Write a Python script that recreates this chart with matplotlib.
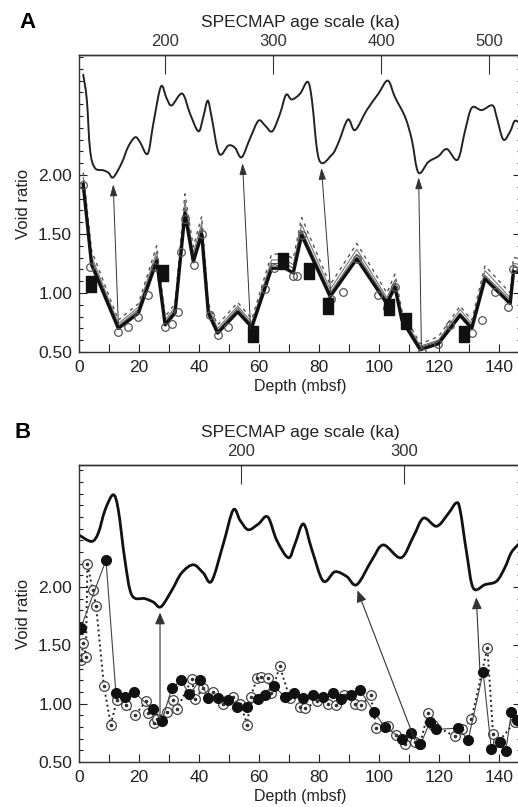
import matplotlib
matplotlib.use("Agg")
import matplotlib.pyplot as plt
from matplotlib.ticker import MultipleLocator, FixedLocator
from matplotlib.path import Path
from matplotlib.patches import PathPatch

plt.rcParams['font.family'] = ['Liberation Sans', 'DejaVu Sans']

# ---------------- Panel A data ----------------
specA_depth = [1.4, 2.6, 3.7, 5.3, 8.1, 9.8, 11.4, 14.2, 16.4, 18.7, 20.3, 22.9, 24.8, 27.3,
               29.2, 30.9, 34.4, 37.0, 39.8, 41.4, 42.9, 44.2, 46.7, 49.8, 52.0, 54.2, 57.0,
               59.8, 62.0, 64.4, 67.0, 69.0, 70.9, 73.7, 76.2, 77.6, 80.0, 84.2, 86.4, 89.6,
               92.0, 95.9, 99.8, 102.9, 105.3, 108.7, 110.9, 113.1, 116.4, 119.8, 122.6,
               126.2, 128.7, 130.9, 134.2, 137.8, 139.2, 141.4, 143.7, 145.3, 147.5]
specA_val = [2.85, 2.64, 2.21, 2.06, 2.04, 2.02, 1.98, 2.10, 2.24, 2.32, 2.28, 2.18, 2.44, 2.75,
             2.65, 2.59, 2.69, 2.52, 2.37, 2.49, 2.63, 2.49, 2.18, 2.25, 2.23, 2.15, 2.31,
             2.46, 2.42, 2.37, 2.52, 2.68, 2.64, 2.69, 2.79, 2.64, 2.13, 2.17, 2.27, 2.47,
             2.38, 2.55, 2.69, 2.80, 2.66, 2.49, 2.30, 2.02, 2.11, 2.16, 2.22,
             2.13, 2.38, 2.57, 2.55, 2.59, 2.49, 2.30, 2.37, 2.46, 2.42]

voidA_depth = [1.4, 4.2, 13.1, 19.8, 25.9, 28.7, 32.0, 35.3, 38.1, 40.9, 43.1, 46.2, 52.9, 57.6,
               64.2, 68.7, 71.4, 74.2, 83.7, 92.6, 102.6, 105.3, 107.6, 113.7, 119.8, 127.0,
               130.9, 135.3, 143.7, 144.8, 147.5]
voidA_main = [1.92, 1.24, 0.70, 0.83, 1.27, 0.73, 0.83, 1.675, 1.265, 1.50, 0.83, 0.66, 0.84, 0.71,
              1.21, 1.21, 1.17, 1.49, 0.97, 1.29, 0.91, 1.05, 0.77, 0.52, 0.57, 0.81,
              0.70, 1.12, 0.91, 1.18, 1.17]
voidA_thin1 = [1.95, 1.28, 0.72, 0.86, 1.31, 0.75, 0.86, 1.72, 1.30, 1.55, 0.86, 0.68, 0.87, 0.73,
               1.25, 1.25, 1.21, 1.53, 1.00, 1.33, 0.94, 1.08, 0.79, 0.54, 0.59, 0.83,
               0.72, 1.15, 0.94, 1.22, 1.21]
voidA_thin2 = [1.98, 1.31, 0.74, 0.88, 1.35, 0.77, 0.88, 1.78, 1.34, 1.59, 0.88, 0.70, 0.89, 0.75,
               1.28, 1.28, 1.24, 1.58, 1.03, 1.37, 0.96, 1.11, 0.82, 0.55, 0.60, 0.86,
               0.74, 1.19, 0.96, 1.25, 1.24]
voidA_dash = [2.02, 1.36, 0.77, 0.91, 1.40, 0.80, 0.91, 1.84, 1.39, 1.65, 0.91, 0.73, 0.92, 0.78,
              1.33, 1.33, 1.29, 1.64, 1.07, 1.42, 1.00, 1.16, 0.85, 0.57, 0.63, 0.89,
              0.77, 1.23, 1.00, 1.30, 1.29]

circA_depth = [1.4, 3.7, 13.1, 16.4, 19.8, 23.1, 25.3, 28.7, 30.9, 33.1, 34.0, 35.3, 38.4, 40.9,
               43.7, 46.2, 49.8, 58.1, 62.0, 65.0, 71.4, 72.6, 74.2, 84.0, 88.1, 92.6, 99.8,
               102.6, 105.3, 108.7, 114.2, 119.8, 123.7, 130.9, 134.2, 138.7, 143.1, 144.8]
circA_val = [1.915, 1.22, 0.67, 0.71, 0.80, 0.98, 1.22, 0.71, 0.74, 0.84, 1.35, 1.63, 1.24, 1.50,
             0.81, 0.64, 0.71, 0.69, 1.03, 1.21, 1.14, 1.14, 1.49, 0.95, 1.01, 1.29, 0.98,
             0.87, 1.05, 0.74, 0.50, 0.57, 0.73, 0.66, 0.77, 1.01, 0.88, 1.20]

sqA_depth = [3.9, 28.1, 57.9, 68.0, 76.7, 83.0, 103.3, 108.9, 128.3]
sqA_val = [1.08, 1.17, 0.65, 1.27, 1.19, 0.89, 0.88, 0.76, 0.65]

arrA_from = [(13.1, 0.74), (57.2, 0.69), (83.9, 1.00), (114.1, 0.55)]
arrA_to = [(11.4, 1.92), (54.5, 2.10), (80.8, 2.06), (113.2, 1.98)]

ageA_ticks = [200, 300, 400, 500]
ageA_at0, ageA_rate = 120.3, 2.778   # ka at 0 mbsf, ka per m

# ---------------- Panel B data ----------------
specB_depth = [0.3, 4.2, 6.4, 8.7, 11.4, 13.1, 15.3, 17.6, 22.0, 24.8, 27.3, 30.9, 34.2, 38.1,
               41.4, 44.2, 48.1, 51.4, 53.7, 56.4, 59.8, 62.9, 65.9, 69.8, 72.0, 74.8, 77.6,
               81.4, 85.3, 89.2, 92.6, 97.6, 101.4, 107.3, 111.4, 114.8, 119.2, 123.1, 125.7,
               127.0, 129.2, 131.4, 135.3, 139.2, 142.0, 144.2, 147.5]
specB_val = [2.44, 2.39, 2.46, 2.66, 2.79, 2.66, 2.23, 1.93, 1.90, 1.87, 1.83, 1.97, 2.12, 2.19,
             2.12, 2.05, 2.37, 2.66, 2.57, 2.49, 2.54, 2.60, 2.40, 2.25, 2.37, 2.54, 2.32,
             2.05, 2.13, 2.09, 2.02, 2.23, 2.36, 2.25, 2.43, 2.59, 2.52, 2.63, 2.72,
             2.66, 2.29, 1.99, 2.02, 2.05, 2.17, 2.30, 2.39]

filledB_depth = [0.6, 9.0, 12.3, 15.3, 18.3, 24.6, 27.6, 30.9, 34.0, 36.8, 40.3, 43.1, 46.4, 49.8,
                 52.8, 55.9, 59.5, 61.9, 65.0, 68.6, 71.7, 74.7, 78.0, 81.3, 84.7, 87.4, 90.6,
                 93.6, 98.3, 101.9, 107.7, 110.8, 113.8, 116.9, 119.1, 126.3, 129.7, 134.7,
                 137.4, 140.2, 142.2, 144.1, 146.0]
filledB_val = [1.65, 2.23, 1.09, 1.06, 1.10, 0.95, 0.85, 1.13, 1.20, 1.08, 1.20, 1.05, 1.05, 1.03,
               0.97, 0.97, 1.04, 1.07, 1.15, 1.06, 1.09, 1.05, 1.07, 1.06, 1.09, 1.04, 1.07,
               1.12, 0.93, 0.80, 0.70, 0.75, 0.65, 0.84, 0.78, 0.79, 0.69, 1.27,
               0.61, 0.67, 0.59, 0.93, 0.86]

openB_depth = [0.7, 1.4, 2.3, 2.8, 4.6, 5.7, 8.3, 10.6, 12.6, 15.7, 18.7, 22.3, 23.1, 25.0, 25.9,
               29.2, 31.4, 32.6, 37.6, 38.7, 41.4, 44.8, 47.9, 51.2, 53.7, 56.1, 57.2, 59.4,
               60.6, 63.0, 64.1, 66.9, 70.2, 73.6, 75.4, 79.4, 83.0, 85.8, 88.3, 91.9, 94.1,
               97.2, 99.1, 103.0, 105.8, 108.6, 111.9, 113.6, 116.3, 118.0, 125.2, 127.7,
               130.8, 136.1, 138.0, 139.7, 145.2]
openB_val = [1.37, 1.52, 1.40, 2.20, 1.97, 1.84, 1.15, 0.82, 1.03, 0.99, 0.90, 1.02, 0.92, 0.83, 0.87,
             0.93, 1.03, 0.95, 1.21, 1.04, 1.13, 1.10, 1.00, 1.06, 1.00, 0.82, 1.06, 1.22,
             1.23, 1.22, 1.09, 1.32, 1.05, 0.97, 0.96, 1.02, 1.00, 0.99, 1.07, 1.00, 0.99,
             1.07, 0.79, 0.81, 0.73, 0.65, 0.67, 0.65, 0.92, 0.82, 0.72, 0.78,
             0.87, 1.48, 0.74, 0.67, 0.84]

arrB_from = [(27.0, 0.86), (111.9, 0.69), (133.6, 1.29)]
arrB_to = [(27.0, 1.78), (92.8, 1.97), (132.4, 1.91)]

ageB_ticks = [200, 300]
ageB_at0, ageB_rate = 100.5, 1.842

xticks_major = [0, 20, 40, 60, 80, 100, 120, 140]
yticks_major = [0.5, 1.0, 1.5, 2.0]

W, H = 518, 807
fig = plt.figure(figsize=(W / 100, H / 100), dpi=100)


def make_axes(left_px, top_px, bottom_px, right_px, xmax, ymax):
    ax = fig.add_axes([left_px / W, 1 - bottom_px / H, (right_px - left_px) / W,
                       (bottom_px - top_px) / H])
    ax.set_xlim(0, xmax)
    ax.set_ylim(0.5, ymax)
    ax.xaxis.set_major_locator(FixedLocator(xticks_major))
    ax.xaxis.set_minor_locator(MultipleLocator(10))
    ax.yaxis.set_major_locator(FixedLocator(yticks_major))
    ax.yaxis.set_minor_locator(MultipleLocator(0.1))
    ax.set_yticklabels(['%.2f' % v for v in yticks_major])
    ax.tick_params(axis='both', which='both', direction='in', colors='#222',
                   labelsize=12.5, width=0.8)
    ax.tick_params(axis='x', which='both', length=6, pad=6, top=False)
    ax.tick_params(axis='y', which='major', length=6, pad=5, right=True)
    ax.tick_params(axis='y', which='minor', length=3, right=True)
    for s in ax.spines.values():
        s.set_linewidth(1.0)
        s.set_color('#333')
    ax.set_xlabel('Depth (mbsf)', fontsize=11.5, labelpad=3, color='#222')
    ax.set_ylabel('Void ratio', fontsize=12, labelpad=5, color='#222')
    return ax


def add_age_axis(ax, at0, rate, ticks):
    sec = ax.secondary_xaxis('top', functions=(lambda d: at0 + rate * d,
                                               lambda a: (a - at0) / rate))
    sec.set_xticks(ticks)
    sec.tick_params(direction='in', length=14, width=0.8, colors='#333', labelsize=12, pad=4)
    sec.spines['top'].set_linewidth(1.0)
    sec.spines['top'].set_color('#333')
    sec.set_xlabel('SPECMAP age scale (ka)', fontsize=12.5, labelpad=5, color='#222')
    return sec


def smooth_line(ax, xs, ys, **kw):
    """Draw a smooth (Catmull-Rom / Bezier) line through the given data points."""
    pts = list(zip(xs, ys))
    n = len(pts)
    verts = [pts[0]]
    codes = [Path.MOVETO]
    for i in range(n - 1):
        p0 = pts[i - 1] if i > 0 else pts[i]
        p1 = pts[i]
        p2 = pts[i + 1]
        p3 = pts[i + 2] if i + 2 < n else pts[i + 1]
        c1 = (p1[0] + (p2[0] - p0[0]) / 6.0, p1[1] + (p2[1] - p0[1]) / 6.0)
        c2 = (p2[0] - (p3[0] - p1[0]) / 6.0, p2[1] - (p3[1] - p1[1]) / 6.0)
        verts += [c1, c2, p2]
        codes += [Path.CURVE4] * 3
    patch = PathPatch(Path(verts, codes), fill=False, transform=ax.transData,
                      capstyle='round', joinstyle='round', clip_on=True, **kw)
    ax.add_patch(patch)


# ---------------- Panel A ----------------
axA = make_axes(79, 55, 352, 521, 147.3, 3.017)
add_age_axis(axA, ageA_at0, ageA_rate, ageA_ticks)
smooth_line(axA, specA_depth, specA_val, edgecolor='#222', lw=1.4)
axA.plot(voidA_depth, voidA_dash, color='#555', lw=1.0, ls=(0, (2.5, 3)))
axA.plot(voidA_depth, voidA_thin2, color='#777', lw=0.8)
axA.plot(voidA_depth, voidA_thin1, color='#555', lw=0.8)
axA.plot(voidA_depth, voidA_main, color='#111', lw=2.4)
axA.plot(circA_depth, circA_val, ls='none', marker='o', ms=5.5, mfc='none', mec='#555', mew=0.9)
rect = [(-0.35, -0.5), (0.35, -0.5), (0.35, 0.5), (-0.35, 0.5), (-0.35, -0.5)]
axA.plot(sqA_depth, sqA_val, ls='none', marker=rect, ms=11, color='#111')
for (x0, y0), (x1, y1) in zip(arrA_from, arrA_to):
    axA.annotate('', xy=(x1, y1), xytext=(x0, y0),
                 arrowprops=dict(arrowstyle='-|>,head_length=0.7,head_width=0.22',
                                 lw=0.7, color='#333', shrinkA=0, shrinkB=0))

# ---------------- Panel B ----------------
axB = make_axes(79, 465, 762, 521, 147.3, 3.045)
add_age_axis(axB, ageB_at0, ageB_rate, ageB_ticks)
smooth_line(axB, specB_depth, specB_val, edgecolor='#111', lw=2.0)
axB.plot(openB_depth, openB_val, color='#222', lw=1.4, ls=(0, (1, 1.6)),
         marker='o', ms=7, mfc='white', mec='#444', mew=0.9)
axB.plot(openB_depth, openB_val, ls='none', marker='o', ms=1.6, color='#333')
axB.plot(filledB_depth, filledB_val, color='#444', lw=0.8, marker='o', ms=7,
         mfc='#111', mec='#111')
for (x0, y0), (x1, y1) in zip(arrB_from, arrB_to):
    axB.annotate('', xy=(x1, y1), xytext=(x0, y0),
                 arrowprops=dict(arrowstyle='-|>,head_length=0.7,head_width=0.3',
                                 lw=0.8, color='#333', shrinkA=0, shrinkB=0))

fig.text(27 / W, 1 - 22 / H, 'A', fontsize=16, fontweight='bold', ha='center', va='center')
fig.text(23 / W, 1 - 433 / H, 'B', fontsize=16, fontweight='bold', ha='center', va='center')

fig.savefig('out.png', dpi=100)
